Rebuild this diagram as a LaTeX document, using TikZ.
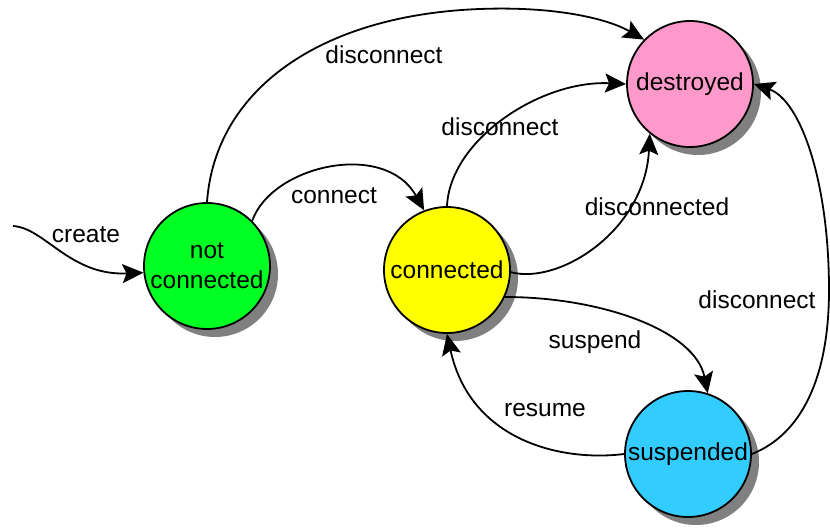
\documentclass[tikz,border=0pt]{standalone}
\usepackage{fontspec}
\setmainfont{Liberation Sans}
\usetikzlibrary{arrows.meta,shadows}
\definecolor{cgreen}{HTML}{00FF22}
\definecolor{cyellow}{HTML}{FFFF00}
\definecolor{cpink}{HTML}{FF99CC}
\definecolor{cblue}{HTML}{33CCFF}
\definecolor{cshadow}{HTML}{808080}
\tikzset{
  state/.style={circle, draw=black, line width=1.8pt, minimum size=126pt, inner sep=0pt,
    align=center, font=\fontsize{24.5}{30}\selectfont,
    drop shadow={shadow xshift=8pt, shadow yshift=-8pt, fill=cshadow, opacity=1}},
  trans/.style={line width=1.8pt, -{Stealth[length=21pt,width=19pt,inset=4pt]}},
  lbl/.style={font=\fontsize{24.5}{30}\selectfont, inner sep=0pt}
}
\begin{document}
\begin{tikzpicture}[x=1pt,y=-1pt]
\useasboundingbox (0,0) rectangle (830,529);
\node[state, fill=cgreen] (nc) at (207,266) {not\\connected};
\node[state, fill=cyellow] (c) at (447,270) {connected};
\node[state, fill=cpink] (d) at (690,84) {destroyed};
\node[state, fill=cblue] (s) at (688,454) {suspended};
\coordinate (start) at (13,226);

\draw[trans] (start) .. controls (45,228) and (70,276) .. (nc.186);
\draw[trans] (nc.45) .. controls (272,165) and (385,140) .. (c.111);
\draw[trans] (nc.90) .. controls (215,90) and (320,15) .. (480,9) .. controls (560,6) and (610,20) .. (d.136);
\draw[trans] (c.90) .. controls (450,140) and (540,80) .. (d.180);
\draw[trans] (c.-2) .. controls (560,285) and (645,230) .. (d.231);
\draw[trans] (c.-25) .. controls (600,297) and (695,330) .. (s.72);
\draw[trans] (s.180) .. controls (560,462) and (470,440) .. (c.270);
\draw[trans] (s.0) .. controls (800,435) and (829,380) .. (829,290) .. controls (829,180) and (800,100) .. (d.0);

\node[lbl] (lcreate) at (86,235) {create};
\node[lbl] (lconnect) at (334,196) {connect};
\node[lbl] (ldis1) at (384,55) {disconnect};
\node[lbl] (ldis2) at (500,127) {disconnect};
\node[lbl] (ldised) at (657,207) {disconnected};
\node[lbl] (lsusp) at (595,342) {suspend};
\node[lbl] (lres) at (545,410) {resume};
\node[lbl] (ldis3) at (757,300) {disconnect};
\end{tikzpicture}
\end{document}
